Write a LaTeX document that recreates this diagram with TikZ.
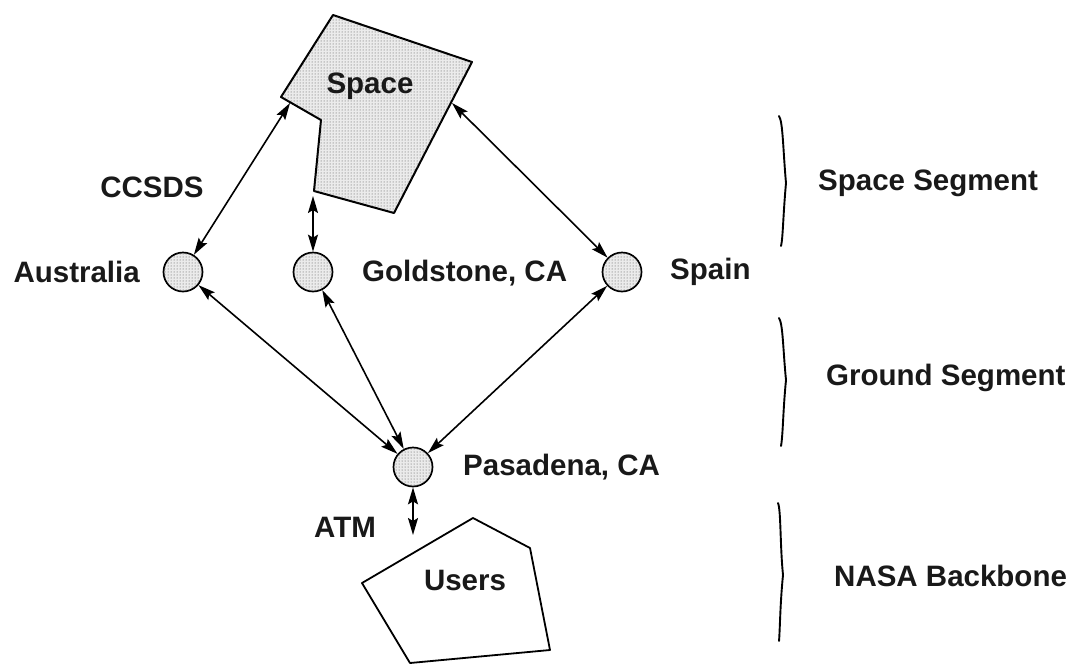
\documentclass[tikz,border=0pt]{standalone}
\usepackage{fontspec}
\setmainfont{Liberation Sans}
\usetikzlibrary{patterns,arrows.meta}
\begin{document}
\begin{tikzpicture}[x=1pt,y=-1pt,
  stipple/.style={fill=black!8, postaction={pattern=dots, pattern color=black!70}},
  station/.style={circle, draw, line width=1.7pt, minimum size=39pt, inner sep=0pt, stipple},
  link/.style={{Stealth[length=17pt,width=10pt,inset=3pt]}-{Stealth[length=17pt,width=10pt,inset=3pt]}, line width=1.6pt},
  lbl/.style={font=\fontsize{29.5}{34}\selectfont\bfseries, text=black!90, inner sep=0pt},
  brace/.style={line width=1.9pt, line cap=round}]
\useasboundingbox (0,0) rectangle (1076,665);

% spacecraft region
\draw[stipple, line width=2pt, line join=round]
  (333,15) -- (472,62) -- (394,213) -- (314,191) -- (321,120) -- (281,97) -- cycle;
\node[lbl] (space) at (370,86) {Space};
\coordinate (spA) at (290,103);
\coordinate (spG) at (313,196);
\coordinate (spS) at (452,103);

% ground stations
\node[station] (aus) at (183,272) {};
\node[station] (gold) at (313,272) {};
\node[station] (spain) at (622,272) {};
\node[station] (pas) at (413,467) {};

\node[lbl, anchor=east] (ausl) at (140,272) {Australia};
\node[lbl, anchor=west] (goldl) at (362,273) {Goldstone, CA};
\node[lbl, anchor=west] (spainl) at (670,272) {Spain};
\node[lbl, anchor=west] (pasl) at (463,467) {Pasadena, CA};
\node[lbl] (ccsds) at (152,187) {CCSDS};
\node[lbl] (atm) at (345,527) {ATM};

% users region
\draw[line width=1.8pt, line join=round]
  (473,518) -- (530,548) -- (550,650) -- (410,663) -- (362,583) -- cycle;
\node[lbl] (users) at (465,580) {Users};
\coordinate (usP) at (413,535);

% links
\draw[link] (aus) -- (spA);
\draw[link] (gold) -- (spG);
\draw[link] (spain) -- (spS);
\draw[link] (aus) -- (pas);
\draw[link] (gold) -- (pas);
\draw[link] (spain) -- (pas);
\draw[link] (pas) -- (usP);

% segment brackets
\draw[brace] (779,116) .. controls (783,122) and (783,150) .. (786,183)
  .. controls (783,216) and (783,238) .. (781,246);
\draw[brace] (779,318) .. controls (783,324) and (783,350) .. (786,380)
  .. controls (783,410) and (783,435) .. (781,446);
\draw[brace] (778,503) .. controls (781,510) and (780,545) .. (783,575)
  .. controls (780,605) and (780,630) .. (779,641);

\node[lbl, anchor=west] (ss) at (818,183) {Space Segment};
\node[lbl, anchor=west] (gs) at (826,378) {Ground Segment};
\node[lbl, anchor=west] (nb) at (834,576) {NASA Backbone};
\end{tikzpicture}
\end{document}
